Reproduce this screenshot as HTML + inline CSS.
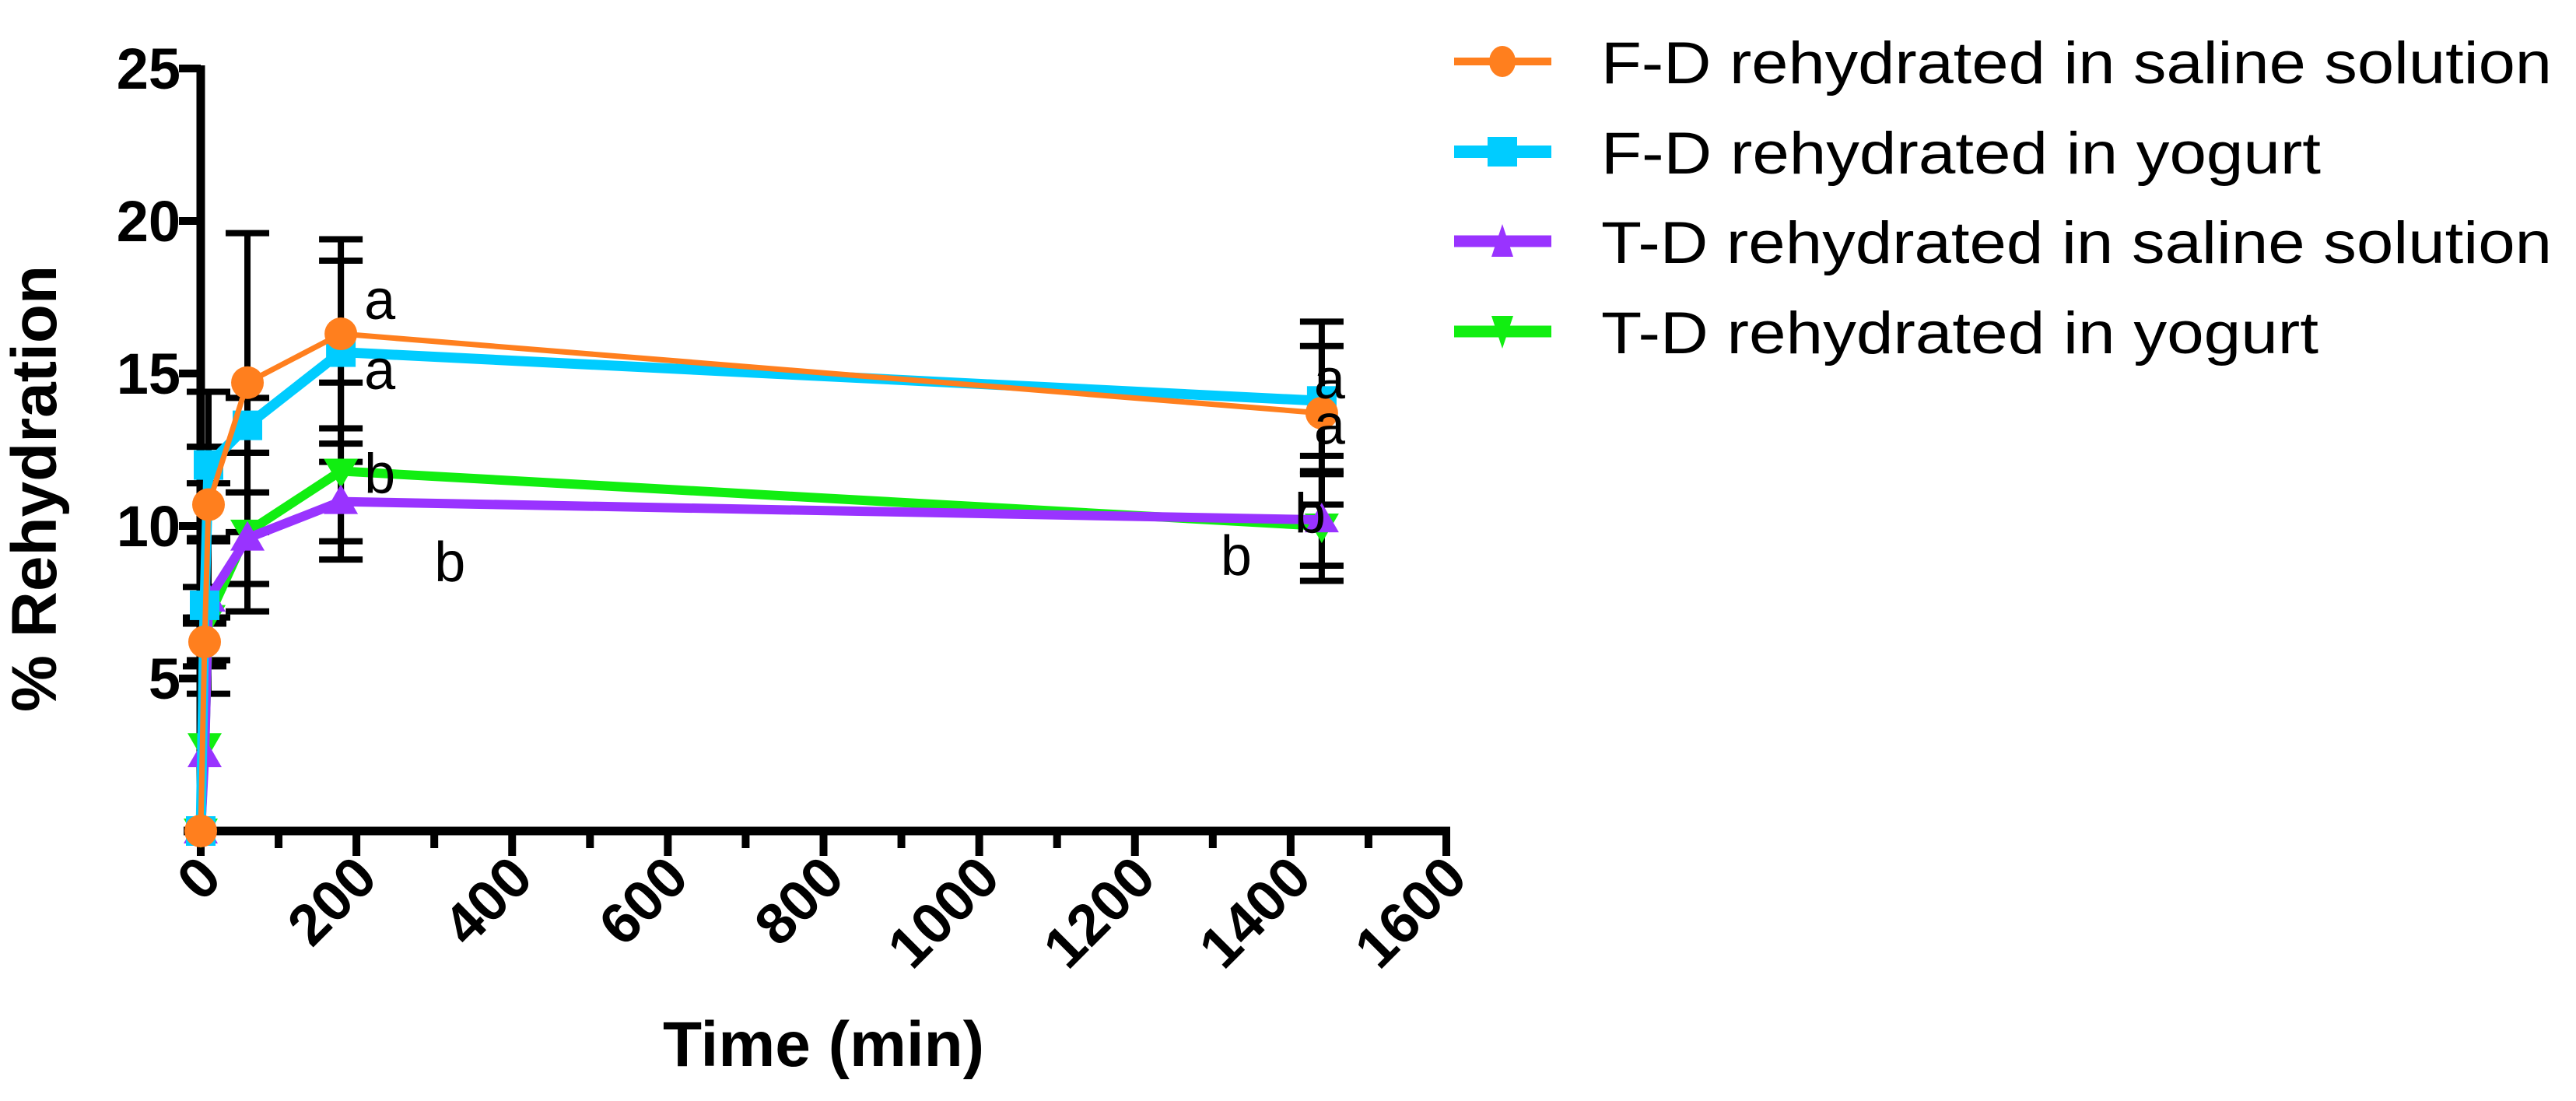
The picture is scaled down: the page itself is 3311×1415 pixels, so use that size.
<!DOCTYPE html>
<html><head><meta charset="utf-8"><style>
html,body{margin:0;padding:0;background:#fff;}
svg{display:block;}
text{font-family:"Liberation Sans",Arial,sans-serif;}
</style></head><body>
<svg id="chart" width="3311" height="1415" viewBox="0 0 3311 1415" xmlns="http://www.w3.org/2000/svg">
<g id="axes"></g>
<g id="series"></g>
<g id="legend"></g>
</svg>
<script>
const times = [0, 5, 10, 60, 180, 1440];
const fdSaline = [0, 6.2, 10.7, 14.7, 16.3, 13.7];
const fdYogurt = [0, 7.4, 12.0, 13.3, 15.7, 14.1];
const tdSaline = [0, 2.5, 7.6, 9.6, 10.8, 10.2];
const tdYogurt = [0, 2.8, 7.0, 9.8, 11.8, 10.0];
const fdSalineErr = [0, 0.8, 3.7, 4.9, 3.1, 3.0];
const fdYogurtErr = [0, 0.6, 0.6, 0.9, 3.0, 1.8];
const tdSalineErr = [0, 0, 2.0, 1.5, 1.3, 1.5];
const tdYogurtErr = [0, 0, 2.5, 2.6, 2.9, 1.8];
const xTicks = [0, 200, 400, 600, 800, 1000, 1200, 1400, 1600];
const yTicks = [5, 10, 15, 20, 25];
const seriesNames = ["F-D rehydrated in saline solution","F-D rehydrated in yogurt","T-D rehydrated in saline solution","T-D rehydrated in yogurt"];
const letterTimes = [180, 180, 180, 300, 1440, 1440, 1440, 1310];
const letterVals = [17.4, 15.1, 11.7, 8.8, 14.8, 13.3, 10.4, 9.0];
const letterText = ["a","a","b","b","a","a","b","b"];
const letterDx = [30, 30, 30, 0, -10, -10, -35, 0];

const NS="http://www.w3.org/2000/svg";
const X0=258,X1=1859,Y0=1068,Y1=88;
const xs=v=>X0+(v/1600)*(X1-X0);
const ys=v=>Y0-(v/25)*(Y0-Y1);
function mk(tag,attrs,parent){const e=document.createElementNS(NS,tag);for(const k in attrs)e.setAttribute(k,attrs[k]);parent.appendChild(e);return e;}
const axes=document.getElementById('axes'),ser=document.getElementById('series'),leg=document.getElementById('legend');

let yl=mk('line',{x1:X0,y1:Y1-4,x2:X0,y2:Y0+5,stroke:'#000','stroke-width':11},axes);


let xl=mk('line',{x1:X0-22,y1:Y0,x2:X1+5,y2:Y0,stroke:'#000','stroke-width':11},axes);


yTicks.forEach(v=>{
  let t=mk('line',{x1:X0-28,y1:ys(v),x2:X0,y2:ys(v),stroke:'#000','stroke-width':10},axes);
  
  
  let l=mk('text',{x:X0-26,y:ys(v)+26,'text-anchor':'end','font-size':74,'font-weight':'bold'},axes);
  l.textContent=v;
  
  
});
xTicks.forEach((v,i)=>{
  let t=mk('line',{x1:xs(v),y1:Y0,x2:xs(v),y2:Y0+32,stroke:'#000','stroke-width':10},axes);
  
  
  if(i<xTicks.length-1){let m=mk('line',{x1:xs(v+100),y1:Y0,x2:xs(v+100),y2:Y0+22,stroke:'#000','stroke-width':10},axes);
  
  }
  let l=mk('text',{x:0,y:0,'text-anchor':'end','font-size':74,'font-weight':'bold',transform:`translate(${xs(v)+30},${Y0+64}) rotate(-45)`},axes);
  l.textContent=v;
  
  
});
let xt=mk('text',{x:(X0+X1)/2,y:1370,'text-anchor':'middle','font-size':82,'font-weight':'bold'},axes);
xt.textContent='Time (min)';


let yt=mk('text',{x:0,y:0,'text-anchor':'middle','font-size':82,'font-weight':'bold',transform:`translate(72,${(Y0+Y1)/2+50}) rotate(-90)`},axes);
yt.textContent='% Rehydration';



const data=[fdSaline,fdYogurt,tdSaline,tdYogurt];
const errs=[fdSalineErr,fdYogurtErr,tdSalineErr,tdYogurtErr];
const colors=['#ff7f1e','#00ccff','#9933ff','#11ee11'];
const widths=[7,13,12,12];
const order=[3,2,1,0];
order.forEach(s=>{
  data[s].forEach((v,i)=>{
    const e=errs[s][i]; if(!e) return;
    const x=xs(times[i]);
    let g=mk('g',{stroke:'#000','stroke-width':8},ser);
    
    
    mk('line',{x1:x,y1:ys(v+e),x2:x,y2:ys(v-e)},g);
    mk('line',{x1:x-28,y1:ys(v+e),x2:x+28,y2:ys(v+e)},g);
    mk('line',{x1:x-28,y1:ys(v-e),x2:x+28,y2:ys(v-e)},g);
  });
});
order.forEach(s=>{
  const pts=data[s].map((v,i)=>xs(times[i])+','+ys(v)).join(' ');
  let pl=mk('polyline',{points:pts,fill:'none',stroke:colors[s],'stroke-width':widths[s],'stroke-linejoin':'round'},ser);
  
  
  data[s].forEach((v,i)=>{
    const x=xs(times[i]),y=ys(v);let m;
    if(s===0)m=mk('circle',{cx:x,cy:y,r:21,fill:colors[s]},ser);
    else if(s===1)m=mk('rect',{x:x-19,y:y-19,width:38,height:38,fill:colors[s]},ser);
    else if(s===2)m=mk('polygon',{points:`${x},${y-22} ${x-22},${y+16} ${x+22},${y+16}`,fill:colors[s]},ser);
    else m=mk('polygon',{points:`${x},${y+22} ${x-22},${y-16} ${x+22},${y-16}`,fill:colors[s]},ser);
    
    
  });
});
letterText.forEach((t,i)=>{
  let l=mk('text',{x:xs(letterTimes[i])+letterDx[i],y:ys(letterVals[i])+24,'font-size':72},ser);
  l.textContent=t;
  
  
});
const legY=[79,195,310,426];
seriesNames.forEach((n,s)=>{
  const y=legY[s];
  let g=mk('g',{},leg);
  
  
  mk('line',{x1:1869,y1:y,x2:1994,y2:y,stroke:colors[s],'stroke-width':widths[s]+3},g);
  const x=1931;
  if(s===0)mk('ellipse',{cx:x,cy:y,rx:17,ry:20,fill:colors[s]},g);
  else if(s===1)mk('rect',{x:x-19,y:y-19,width:38,height:38,fill:colors[s]},g);
  else if(s===2)mk('polygon',{points:`${x},${y-22} ${x-14},${y+20} ${x+14},${y+20}`,fill:colors[s]},g);
  else mk('polygon',{points:`${x},${y+22} ${x-14},${y-20} ${x+14},${y-20}`,fill:colors[s]},g);
  const tx=mk('text',{x:2058,y:y+28,'font-size':76},g);
  tx.textContent=n;
  const w=[1222,925,1222,922][s];
  tx.setAttribute('textLength',w);
  tx.setAttribute('lengthAdjust','spacingAndGlyphs');
});
</script>
</body></html>
